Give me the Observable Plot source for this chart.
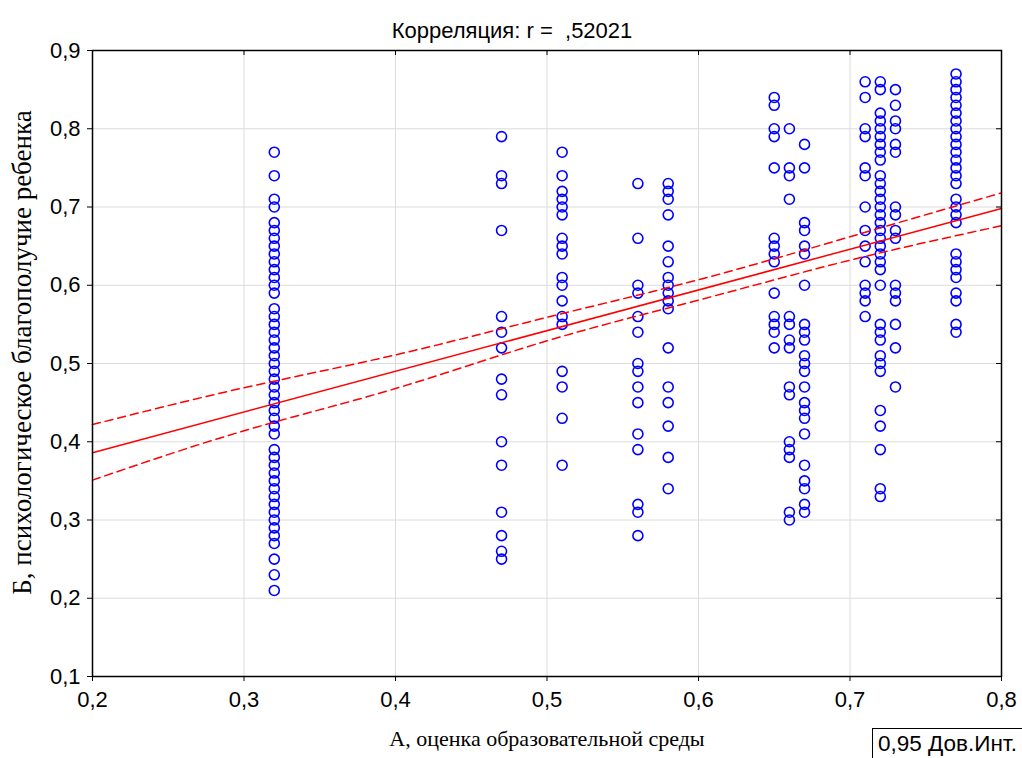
<!DOCTYPE html>
<html><head><meta charset="utf-8">
<script src="https://cdn.jsdelivr.net/npm/d3@7"></script>
<script src="https://cdn.jsdelivr.net/npm/@observablehq/plot@0.6"></script>
<style>
body{margin:0;background:#fff}
#wrap{position:relative;width:1022px;height:758px;overflow:hidden;background:#fff}
#wrap svg text{white-space:pre}
#legend{position:absolute;left:872px;top:728px;width:170px;height:40px;border:1px solid #000;box-sizing:border-box;
 font-family:"Liberation Sans",Arial,sans-serif;font-size:22.5px;line-height:24px;padding:3px 0 0 5px;color:#000;background:#fff}
</style>
</head><body><div id="wrap"><div id="legend">0,95 Дов.Инт.</div></div>
<script>
// Column x values (A) and their Y values (Б)
const columnX = [0.32, 0.47, 0.51, 0.56, 0.58, 0.65, 0.66, 0.67, 0.71, 0.72, 0.73, 0.77];
const y032 = [0.77,0.74,0.71,0.70,0.68,0.67,0.66,0.65,0.64,0.63,0.62,0.61,0.60,0.59,0.57,0.56,0.55,0.54,0.53,0.52,0.51,0.50,0.49,0.48,0.47,0.46,0.45,0.44,0.43,0.42,0.41,0.39,0.38,0.37,0.36,0.35,0.34,0.33,0.32,0.31,0.30,0.29,0.28,0.27,0.25,0.23,0.21];
const y047 = [0.79,0.74,0.73,0.67,0.56,0.54,0.52,0.48,0.46,0.40,0.37,0.31,0.28,0.26,0.25];
const y051 = [0.77,0.74,0.72,0.71,0.70,0.69,0.66,0.65,0.64,0.61,0.60,0.58,0.56,0.55,0.49,0.47,0.43,0.37];
const y056 = [0.73,0.66,0.60,0.59,0.56,0.54,0.50,0.49,0.47,0.45,0.41,0.39,0.32,0.31,0.28];
const y058 = [0.73,0.72,0.71,0.69,0.65,0.63,0.61,0.60,0.59,0.58,0.57,0.52,0.47,0.45,0.42,0.38,0.34];
const y065 = [0.84,0.83,0.80,0.79,0.75,0.66,0.65,0.64,0.63,0.59,0.56,0.55,0.54,0.52];
const y066 = [0.80,0.75,0.74,0.71,0.56,0.55,0.53,0.52,0.47,0.46,0.40,0.39,0.38,0.31,0.30];
const y067 = [0.78,0.75,0.68,0.67,0.65,0.64,0.60,0.55,0.54,0.53,0.51,0.50,0.49,0.47,0.45,0.44,0.43,0.41,0.37,0.35,0.34,0.32,0.31];
const y071 = [0.86,0.84,0.80,0.79,0.75,0.74,0.70,0.67,0.65,0.63,0.60,0.59,0.58,0.56];
const y072 = [0.86,0.85,0.82,0.81,0.80,0.79,0.78,0.77,0.76,0.74,0.73,0.72,0.71,0.70,0.69,0.68,0.67,0.66,0.65,0.64,0.63,0.62,0.60,0.55,0.54,0.53,0.51,0.50,0.49,0.44,0.42,0.39,0.34,0.33];
const y073 = [0.85,0.83,0.81,0.80,0.78,0.77,0.70,0.69,0.67,0.66,0.60,0.59,0.58,0.55,0.52,0.47];
const y077 = [0.87,0.86,0.85,0.84,0.83,0.82,0.81,0.80,0.79,0.78,0.77,0.76,0.75,0.74,0.73,0.71,0.70,0.69,0.68,0.64,0.63,0.62,0.61,0.59,0.58,0.55,0.54];
const columnY = [y032,y047,y051,y056,y058,y065,y066,y067,y071,y072,y073,y077];

// Regression line and 0.95 confidence bounds
const fitX = [0.2, 0.8];
const fitY = [0.386, 0.698];
const ciX = [0.2, 0.3, 0.4, 0.5, 0.6, 0.7, 0.8];
const ciUpper = [0.422, 0.469, 0.511, 0.559, 0.607, 0.662, 0.718];
const ciLower = [0.351, 0.414, 0.468, 0.529, 0.581, 0.632, 0.676];

const xTicks = [0.2, 0.3, 0.4, 0.5, 0.6, 0.7, 0.8];
const yTicks = [0.1, 0.2, 0.3, 0.4, 0.5, 0.6, 0.7, 0.8, 0.9];

const titleText = "Корреляция: r =  ,52021";
const xLabel = "А, оценка образовательной среды";
const yLabel = "Б, психологическое благополучие ребенка";

const points = columnX.flatMap((x, i) => columnY[i].map(y => ({x, y})));
const fit = fitX.map((x, i) => ({x, y: fitY[i]}));
const upper = ciX.map((x, i) => ({x, y: ciUpper[i]}));
const lower = ciX.map((x, i) => ({x, y: ciLower[i]}));
const fmt = d => d.toFixed(1).replace(".", ",");

const sans = "'Liberation Sans', Arial, sans-serif";
const serif = "'Liberation Serif', 'Times New Roman', serif";

const plot = Plot.plot({
  width: 1022, height: 758,
  marginTop: 50, marginLeft: 92, marginRight: 21, marginBottom: 82,
  x: {domain: [0.2, 0.8]},
  y: {domain: [0.1, 0.9]},
  style: {fontFamily: sans, fontSize: "22px", background: "white", color: "black"},
  marks: [
    Plot.gridX(xTicks, {stroke: "#dcdcdc", strokeOpacity: 1}),
    Plot.gridY(yTicks, {stroke: "#dcdcdc", strokeOpacity: 1}),
    Plot.dot(points, {x: "x", y: "y", r: 5, stroke: "#0000ff", strokeWidth: 1.6, fill: "none"}),
    Plot.line(fit, {x: "x", y: "y", stroke: "#ff0000", strokeWidth: 1.5}),
    Plot.line(upper, {x: "x", y: "y", stroke: "#ff0000", strokeWidth: 1.5, strokeDasharray: "8,5", curve: "natural"}),
    Plot.line(lower, {x: "x", y: "y", stroke: "#ff0000", strokeWidth: 1.5, strokeDasharray: "8,5", curve: "natural"}),
    Plot.frame({stroke: "black", strokeWidth: 1.5}),
    Plot.axisX({ticks: xTicks, tickFormat: fmt, tickSize: 5, tickPadding: 10, fontSize: 22, label: null}),
    Plot.axisY({ticks: yTicks, tickFormat: fmt, tickSize: 5, tickPadding: 7, fontSize: 22, label: null}),
    Plot.tickX(xTicks, {x: d => d, stroke: "black", insetBottom: 621}),
    Plot.tickY(yTicks, {y: d => d, stroke: "black", insetLeft: 904}),
    Plot.text([titleText], {text: d => d, frameAnchor: "top", dx: -35, dy: -28, fontSize: 22, fontFamily: sans}),
    Plot.text([xLabel], {text: d => d, frameAnchor: "bottom", dy: 69, fontSize: 22, fontFamily: serif}),
    Plot.text([yLabel], {text: d => d, frameAnchor: "left", textAnchor: "middle", dx: -70, dy: -11, rotate: -90, fontSize: 27, fontFamily: serif})
  ]
});
document.getElementById("wrap").prepend(plot);
</script>
</body></html>
